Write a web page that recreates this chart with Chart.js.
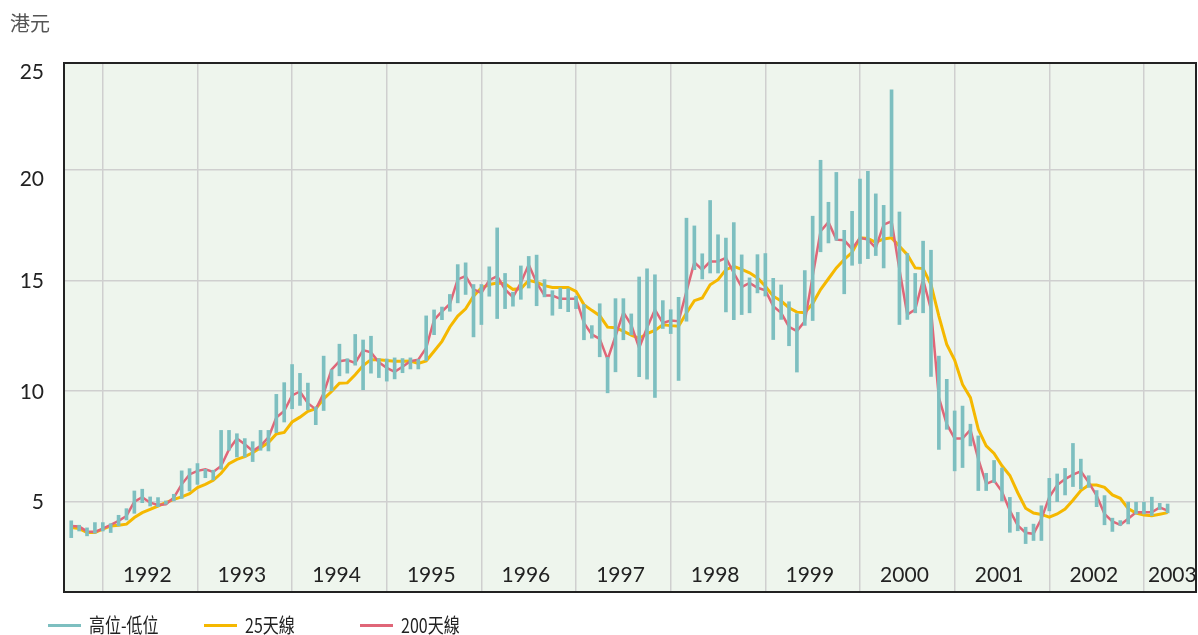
<!DOCTYPE html>
<html>
<head>
<meta charset="utf-8">
<script src="https://cdn.jsdelivr.net/npm/chart.js@4.4.1/dist/chart.umd.min.js"></script>
<style>
  html, body { margin: 0; padding: 0; background: #ffffff; }
  #wrap { position: relative; width: 1198px; height: 635px; overflow: hidden; }
  #unit { position: absolute; left: 10px; top: 8px; font: 20px "Noto Sans CJK TC", "Noto Sans", sans-serif; color: #555; }
  .leg { position: absolute; top: 615px; height: 20px; display: flex; align-items: center; }
  .leg .ln { width: 33px; height: 3px; margin-right: 8px; }
  .leg .tx { font: 20px/1 "Noto Sans CJK TC", "Noto Sans", sans-serif; color: #222; transform: scaleX(0.8); transform-origin: left center; white-space: nowrap; }
</style>
</head>
<body>
<div id="wrap">
  <canvas id="c" width="1198" height="635"></canvas>
  <div id="unit">港元</div>
  <div class="leg" style="left:48px"><div class="ln" style="background:#7dbfc0"></div><div class="tx">高位-低位</div></div>
  <div class="leg" style="left:204px"><div class="ln" style="background:#f5b800"></div><div class="tx">25天線</div></div>
  <div class="leg" style="left:360px"><div class="ln" style="background:#e06678"></div><div class="tx">200天線</div></div>
</div>
<script>
// Monthly data, starting September 1991
const startYear = 1991;
const startMonth = 9;
const yearLabels = ['1992','1993','1994','1995','1996','1997','1998','1999','2000','2001','2002','2003'];
const yTickValues = [5, 10, 15, 20, 25];

const highs = [
  4.13,3.93,3.81,4.05,4.05,4.0,4.38,4.68,5.48,5.56,5.21,5.18,5.03,5.33,6.39,6.49,6.72,6.46,6.42,8.22,
  8.22,8.07,7.85,7.71,8.22,8.22,9.85,10.38,11.2,10.8,10.36,9.28,11.58,10.96,12.12,11.46,12.56,12.31,12.48,11.47,
  11.45,11.5,11.47,11.5,11.43,13.4,13.67,13.8,14.37,15.72,15.8,14.82,14.82,15.62,17.38,15.32,14.47,15.66,16.09,16.15,
  15.04,14.54,14.66,14.63,14.29,13.91,12.96,13.95,11.53,14.18,14.18,13.49,15.16,15.53,15.26,14.09,13.68,14.24,17.82,17.47,
  16.21,18.62,17.07,16.92,17.62,16.16,15.12,16.17,16.22,15.1,14.8,14.04,13.5,15.45,17.91,20.44,18.54,19.89,17.27,18.13,
  19.59,19.94,18.92,18.4,23.63,18.1,16.22,15.32,16.78,16.37,11.58,10.53,9.1,9.32,8.5,7.97,6.28,6.86,6.52,5.19,
  4.51,3.84,3.98,4.81,6.05,6.25,6.5,7.63,6.92,6.17,5.5,5.27,4.25,4.14,4.97,4.97,4.97,5.2,4.92,4.89
];
const lows = [
  3.37,3.67,3.45,3.57,3.67,3.6,3.9,4.17,4.47,4.95,4.8,4.77,4.88,5.03,5.14,5.48,5.78,6.08,5.98,6.46,
  7.32,7.02,7.02,6.81,7.32,7.29,8.12,8.6,9.2,9.35,9.15,8.48,9.12,10.01,10.69,10.81,11.17,10.06,10.81,10.61,
  10.45,10.55,10.83,11.0,11.0,11.38,12.55,13.23,13.61,13.99,14.37,12.45,13.01,14.29,13.28,13.73,13.84,14.15,14.66,13.86,
  14.26,13.43,13.73,13.59,13.73,12.32,12.39,11.55,9.92,10.87,12.32,12.54,10.65,10.54,9.71,12.83,12.6,10.48,13.16,15.49,
  15.07,15.34,15.34,13.58,13.23,13.46,13.54,14.44,14.3,12.33,13.24,12.05,10.86,12.97,13.19,16.3,16.7,16.82,14.4,15.69,
  15.77,15.99,16.13,15.57,17.0,13.01,13.24,13.54,13.54,10.66,7.36,8.27,6.39,6.54,7.52,5.5,5.5,5.86,5.03,3.61,
  3.68,3.1,3.24,3.24,4.58,5.0,5.3,5.68,5.57,5.64,4.77,3.95,3.65,3.92,3.99,4.44,4.44,4.37,4.64,4.49
];
const ma25 = [
  3.83,3.78,3.6,3.6,3.75,3.9,3.93,3.98,4.28,4.5,4.65,4.8,4.95,5.1,5.21,5.36,5.63,5.78,5.96,6.28,
  6.72,6.91,7.03,7.21,7.44,7.67,8.06,8.13,8.6,8.82,9.08,9.2,9.65,9.98,10.35,10.37,10.74,11.15,11.42,11.42,
  11.38,11.35,11.35,11.36,11.25,11.36,11.8,12.25,12.9,13.39,13.72,14.29,14.67,14.82,14.89,14.86,14.6,14.63,15.01,14.92,
  14.77,14.69,14.69,14.69,14.51,13.91,13.65,13.41,12.89,12.86,12.71,12.53,12.38,12.6,12.74,13.0,12.96,12.93,13.53,14.09,
  14.21,14.81,15.04,15.49,15.64,15.5,15.35,15.12,14.74,14.29,14.07,13.77,13.57,13.54,13.96,14.59,15.08,15.57,15.95,16.28,
  16.93,16.9,16.73,16.88,16.93,16.55,16.17,15.57,15.54,14.82,13.39,12.11,11.4,10.3,9.7,8.27,7.52,7.18,6.62,6.18,
  5.4,4.7,4.48,4.42,4.3,4.44,4.66,5.06,5.5,5.75,5.75,5.64,5.3,5.15,4.68,4.48,4.39,4.36,4.43,4.5
];
const ma200 = [
  3.9,3.87,3.65,3.63,3.78,3.95,4.13,4.35,5.0,5.2,4.95,4.85,4.88,5.18,5.78,6.23,6.39,6.46,6.34,6.61,
  7.36,7.85,7.59,7.29,7.52,7.9,8.8,9.1,9.8,9.98,9.45,9.17,9.9,10.97,11.35,11.4,11.27,11.85,11.75,11.3,
  11.05,10.87,11.1,11.35,11.42,11.95,13.22,13.6,13.94,15.05,15.2,14.6,14.44,15.02,15.2,14.6,14.25,14.9,15.72,14.9,
  14.32,14.32,14.17,14.17,14.17,13.08,12.56,12.36,11.43,12.48,13.56,13.0,11.95,12.86,13.68,13.08,13.19,13.16,14.51,15.82,
  15.49,15.86,15.86,16.02,15.34,14.7,14.89,14.67,14.56,13.84,13.54,12.91,12.71,13.16,15.2,17.23,17.64,16.85,16.82,16.43,
  16.93,16.85,16.48,17.53,17.68,15.5,13.46,13.69,15.05,13.69,9.7,8.5,7.85,7.85,8.25,6.92,5.8,5.95,5.45,4.59,
  3.92,3.59,3.54,4.22,5.2,5.75,6.02,6.22,6.37,5.87,5.27,4.44,4.1,3.95,4.22,4.52,4.52,4.52,4.74,4.59
];

// month positions (decimal years) for each monthly record
const months = highs.map((_, i) => startYear + (startMonth - 1 + i) / 12);

const barData = months.map((m, i) => ({ x: m, y: [lows[i], highs[i]] }));
const ma25Data = months.map((m, i) => ({ x: m, y: ma25[i] }));
const ma200Data = months.map((m, i) => ({ x: m, y: ma200[i] }));

const X_MIN = 1991.59, X_MAX = 2003.55;
const Y_MIN = 0.91, Y_MAX = 24.84;
const LABEL_FONT = '21px Lato, "Open Sans", sans-serif';

const framePlugin = {
  id: 'frame',
  beforeDraw(chart) {
    const { ctx, chartArea: a } = chart;
    ctx.save();
    ctx.fillStyle = '#eef5ed';
    ctx.fillRect(a.left, a.top, a.right - a.left, a.bottom - a.top);
    ctx.restore();
  },
  afterDraw(chart) {
    const { ctx, chartArea: a, scales } = chart;
    ctx.save();
    ctx.font = LABEL_FONT;
    ctx.fillStyle = '#222';
    ctx.textBaseline = 'middle';
    // year labels inside the plot, centred in each year
    ctx.textAlign = 'center';
    yearLabels.forEach((lab) => {
      const y = Number(lab);
      const pos = y === 2003 ? y + 0.3 : y + 0.47;
      ctx.fillText(lab, scales.x.getPixelForValue(pos), a.bottom - 17);
    });
    // y-axis labels (the top two sit just below their grid lines)
    ctx.textAlign = 'right';
    yTickValues.forEach((v) => {
      const val = Math.min(v, Y_MAX);
      const shift = v >= 20 ? 9 : 1;
      ctx.fillText(String(v), 44, scales.y.getPixelForValue(val) + shift);
    });
    ctx.strokeStyle = '#222';
    ctx.lineWidth = 2;
    ctx.strokeRect(a.left, a.top, a.right - a.left, a.bottom - a.top);
    ctx.restore();
  }
};

new Chart(document.getElementById('c'), {
  type: 'bar',
  data: {
    datasets: [
      { type: 'bar', label: '高位-低位', data: barData, backgroundColor: '#7dbfc0', barThickness: 3, order: 0 },
      { type: 'line', label: '200天線', data: ma200Data, borderColor: '#e06678', borderWidth: 2.5, pointRadius: 0, tension: 0, order: 1 },
      { type: 'line', label: '25天線', data: ma25Data, borderColor: '#f5b800', borderWidth: 3, pointRadius: 0, tension: 0, order: 2 }
    ]
  },
  options: {
    responsive: false,
    animation: false,
    layout: { padding: { top: 63, right: 2, bottom: 43, left: 0 } },
    plugins: { legend: { display: false }, tooltip: { enabled: false } },
    scales: {
      x: {
        type: 'linear', min: X_MIN, max: X_MAX, offset: false,
        grid: { color: '#cfcfcf', lineWidth: 1.5, drawTicks: false, offset: false },
        border: { display: false },
        ticks: { display: false },
        afterBuildTicks(scale) { scale.ticks = yearLabels.map(l => ({ value: Number(l) })); },
        afterFit(scale) { scale.height = 0; }
      },
      y: {
        type: 'linear', min: Y_MIN, max: Y_MAX,
        grid: { color: '#cfcfcf', lineWidth: 1.5, drawTicks: false },
        border: { display: false },
        ticks: { display: false },
        afterBuildTicks(scale) { scale.ticks = [5, 10, 15, 20, Y_MAX].map(v => ({ value: v })); },
        afterFit(scale) { scale.width = 64; }
      }
    }
  },
  plugins: [framePlugin]
});
</script>
</body>
</html>
